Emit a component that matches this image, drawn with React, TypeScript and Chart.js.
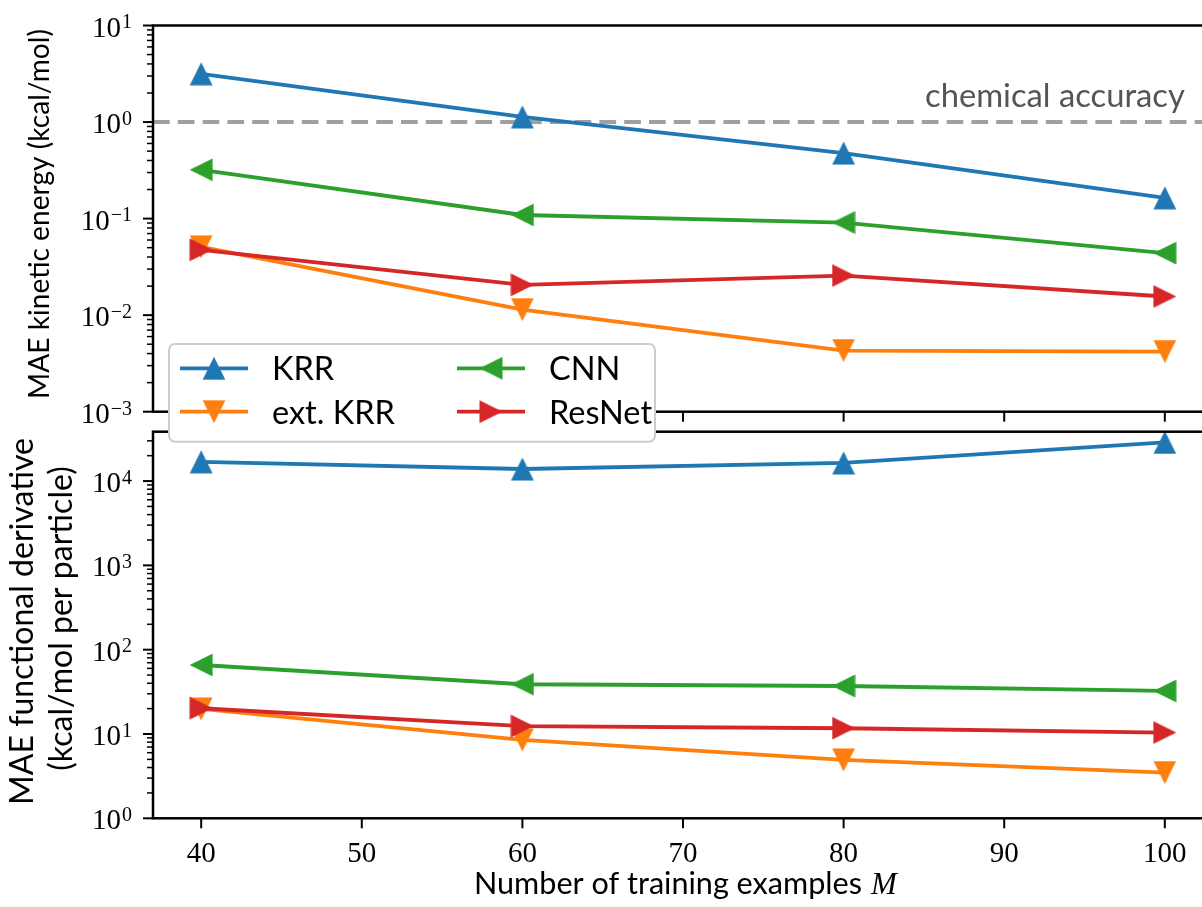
import React, { useEffect, useRef } from "react";
import { Chart, registerables } from "chart.js";

Chart.register(...registerables);

// ---------------- data ----------------
const trainingSizes = [40, 60, 80, 100];
const xTickValues = [40, 50, 60, 70, 80, 90, 100];
const seriesNames = ["KRR", "ext. KRR", "CNN", "ResNet"];
const seriesColors = ["#1f77b4", "#ff7f0e", "#2ca02c", "#d62728"];
const markerRotations = [0, 180, 270, 90];

// top panel: MAE kinetic energy (kcal/mol)
const energyKRR = [3.16, 1.13, 0.477, 0.164];
const energyExtKRR = [0.051, 0.0114, 0.0043, 0.0042];
const energyCNN = [0.32, 0.109, 0.091, 0.0439];
const energyResNet = [0.0475, 0.0206, 0.0257, 0.0156];

// bottom panel: MAE functional derivative (kcal/mol per particle)
const derivKRR = [16900, 13900, 16400, 28700];
const derivExtKRR = [19.8, 8.5, 4.92, 3.49];
const derivCNN = [65.8, 38.9, 37.1, 32.4];
const derivResNet = [20.2, 12.4, 11.7, 10.4];

const topTickExponents = [-3, -2, -1, 0, 1];
const bottomTickExponents = [0, 1, 2, 3, 4];
const chemicalAccuracy = 1;

const topYLabel = "MAE kinetic energy (kcal/mol)";
const bottomYLabel1 = "MAE functional derivative";
const bottomYLabel2 = "(kcal/mol per particle)";
const xLabel = "Number of training examples";
const xLabelVar = "M";
const accuracyLabel = "chemical accuracy";

// ---------------- layout ----------------
const CANVAS_W = 1222;
const PLOT_LEFT = 153;
const PLOT_RIGHT = 1213;
const TOP_CANVAS_H = 450;
const TOP_AREA_TOP = 25.5;
const TOP_AREA_BOTTOM = 411.7;
const BOT_CANVAS_H = 907;
const BOT_AREA_TOP = 431.7;
const BOT_AREA_BOTTOM = 818.3;

const SANS = "Lato";
const SERIF = '"Liberation Serif"';

function makeMarker(color: string): HTMLCanvasElement {
  const c = document.createElement("canvas");
  c.width = 24;
  c.height = 24;
  const g = c.getContext("2d")!;
  g.fillStyle = color;
  g.beginPath();
  g.moveTo(12, 0.6);
  g.lineTo(23.4, 23.4);
  g.lineTo(0.6, 23.4);
  g.closePath();
  g.fill();
  return c;
}

function fitSize(ctx: CanvasRenderingContext2D, text: string, family: string, width: number, style = "") {
  ctx.font = `${style} 100px ${family}`;
  const w = ctx.measureText(text).width;
  return (100 * width) / w;
}

function drawPow(ctx: CanvasRenderingContext2D, exp: number, rightX: number, y: number) {
  const base = "10";
  const sup = exp < 0 ? "\u2212" + String(-exp) : String(exp);
  ctx.fillStyle = "#000";
  ctx.textAlign = "left";
  ctx.textBaseline = "alphabetic";
  ctx.font = `29px ${SERIF}`;
  const bw = ctx.measureText(base).width;
  ctx.font = `20px ${SERIF}`;
  const sw = ctx.measureText(sup).width;
  const x0 = rightX - sw - bw - 1;
  ctx.font = `29px ${SERIF}`;
  ctx.fillText(base, x0, y + 11);
  ctx.font = `20px ${SERIF}`;
  ctx.fillText(sup, x0 + bw + 1, y + 2.8);
}

function drawFrame(chart: any, exps: number[], yMin: number, yMax: number) {
  const ctx: CanvasRenderingContext2D = chart.ctx;
  const ca = chart.chartArea;
  const ys = chart.scales.y;
  const xs = chart.scales.x;
  ctx.save();
  ctx.strokeStyle = "#000";
  const lo = Math.floor(Math.log10(yMin));
  const hi = Math.ceil(Math.log10(yMax));
  for (let e = lo; e <= hi; e++) {
    for (let k = 2; k <= 9; k++) {
      const v = k * Math.pow(10, e);
      if (v < yMin || v > yMax) continue;
      const py = ys.getPixelForValue(v);
      ctx.lineWidth = 1.5;
      ctx.beginPath();
      ctx.moveTo(ca.left - 6, py);
      ctx.lineTo(ca.left, py);
      ctx.stroke();
    }
  }
  for (const e of exps) {
    const py = ys.getPixelForValue(Math.pow(10, e));
    ctx.lineWidth = 2;
    ctx.beginPath();
    ctx.moveTo(ca.left - 10, py);
    ctx.lineTo(ca.left, py);
    ctx.stroke();
    drawPow(ctx, e, ca.left - 21, py);
  }
  for (const t of xTickValues) {
    const px = xs.getPixelForValue(t);
    ctx.lineWidth = 2;
    ctx.beginPath();
    ctx.moveTo(px, ca.bottom);
    ctx.lineTo(px, ca.bottom + 10);
    ctx.stroke();
  }
  ctx.lineWidth = 2.5;
  ctx.strokeRect(ca.left, ca.top, ca.right - ca.left, ca.bottom - ca.top);
  ctx.restore();
}

function makeDatasets(values: number[][], markers: HTMLCanvasElement[]) {
  return values.map((vals, i) => ({
    label: seriesNames[i],
    data: trainingSizes.map((x, j) => ({ x, y: vals[j] })),
    borderColor: seriesColors[i],
    backgroundColor: seriesColors[i],
    borderWidth: 3.8,
    pointStyle: markers[i],
    pointRotation: markerRotations[i],
    pointRadius: 11,
    pointHoverRadius: 11,
    tension: 0,
    order: 4 - i,
  }));
}

function baseOptions(yMin: number, yMax: number, padding: any) {
  return {
    responsive: false,
    animation: false as const,
    devicePixelRatio: 1,
    events: [] as any[],
    layout: { padding, autoPadding: false },
    plugins: { legend: { display: false }, tooltip: { enabled: false } },
    scales: {
      x: { type: "linear" as const, min: 37, max: 103, display: false },
      y: { type: "logarithmic" as const, min: yMin, max: yMax, display: false },
    },
  };
}

export default function App() {
  const topRef = useRef<HTMLCanvasElement>(null);
  const botRef = useRef<HTMLCanvasElement>(null);

  useEffect(() => {
    const markers = seriesColors.map(makeMarker);
    const topMin = 1e-3, topMax = 1e1;
    const botMin = 1, botMax = 38500;

    const topPlugin = {
      id: "topDeco",
      beforeDatasetsDraw(chart: any) {
        const ctx: CanvasRenderingContext2D = chart.ctx;
        const ca = chart.chartArea;
        const py = chart.scales.y.getPixelForValue(chemicalAccuracy);
        ctx.save();
        ctx.beginPath();
        ctx.rect(ca.left, ca.top, ca.right - ca.left, ca.bottom - ca.top);
        ctx.clip();
        ctx.strokeStyle = "rgb(160,160,160)";
        ctx.lineWidth = 4;
        ctx.setLineDash([16.7, 8.1]);
        ctx.beginPath();
        ctx.moveTo(ca.left, py);
        ctx.lineTo(ca.right, py);
        ctx.stroke();
        ctx.restore();
      },
      afterDatasetsDraw(chart: any) {
        const ctx: CanvasRenderingContext2D = chart.ctx;
        drawFrame(chart, topTickExponents, topMin, topMax);
        ctx.save();
        let s = fitSize(ctx, accuracyLabel, SANS, 260);
        ctx.font = `${s}px ${SANS}`;
        ctx.fillStyle = "#555555";
        ctx.textAlign = "left";
        ctx.textBaseline = "alphabetic";
        ctx.fillText(accuracyLabel, 925, 106.7);
        s = fitSize(ctx, topYLabel, SANS, 370);
        ctx.font = `${s}px ${SANS}`;
        ctx.fillStyle = "#000";
        ctx.translate(49, 214);
        ctx.rotate(-Math.PI / 2);
        ctx.textAlign = "center";
        ctx.fillText(topYLabel, 0, 0);
        ctx.restore();

        // legend
        ctx.save();
        const lx = 169, ly = 344, lw = 486, lh = 97.7, r = 6;
        ctx.beginPath();
        ctx.moveTo(lx + r, ly);
        ctx.arcTo(lx + lw, ly, lx + lw, ly + lh, r);
        ctx.arcTo(lx + lw, ly + lh, lx, ly + lh, r);
        ctx.arcTo(lx, ly + lh, lx, ly, r);
        ctx.arcTo(lx, ly, lx + lw, ly, r);
        ctx.closePath();
        ctx.fillStyle = "#ffffff";
        ctx.fill();
        ctx.strokeStyle = "#cccccc";
        ctx.lineWidth = 2;
        ctx.stroke();
        const ls = fitSize(ctx, "ext. KRR", SANS, 123);
        const cols = [180, 457];
        const rows = [368.3, 411.7];
        const textX = [272, 549];
        for (let i = 0; i < 4; i++) {
          const col = Math.floor(i / 2);
          const row = i % 2;
          const x0 = cols[col];
          const y0 = rows[row];
          ctx.strokeStyle = seriesColors[i];
          ctx.lineWidth = 3.8;
          ctx.beginPath();
          ctx.moveTo(x0, y0);
          ctx.lineTo(x0 + 68, y0);
          ctx.stroke();
          ctx.save();
          ctx.translate(x0 + 34, y0);
          ctx.rotate((markerRotations[i] * Math.PI) / 180);
          ctx.drawImage(markers[i], -12, -12);
          ctx.restore();
          ctx.font = `${ls}px ${SANS}`;
          ctx.fillStyle = "#000";
          ctx.textAlign = "left";
          ctx.textBaseline = "alphabetic";
          ctx.fillText(seriesNames[i], textX[col], y0 + 12);
        }
        ctx.restore();
      },
    };

    const botPlugin = {
      id: "botDeco",
      beforeDraw(chart: any) {
        const ctx: CanvasRenderingContext2D = chart.ctx;
        ctx.save();
        ctx.fillStyle = "#fff";
        ctx.fillRect(0, 0, chart.width, chart.height);
        ctx.restore();
      },
      afterDatasetsDraw(chart: any) {
        const ctx: CanvasRenderingContext2D = chart.ctx;
        drawFrame(chart, bottomTickExponents, botMin, botMax);
        const xs = chart.scales.x;
        ctx.save();
        ctx.fillStyle = "#000";
        ctx.textBaseline = "alphabetic";
        ctx.textAlign = "center";
        ctx.font = `29px ${SERIF}`;
        for (const t of xTickValues) {
          ctx.fillText(String(t), xs.getPixelForValue(t), 861.5);
        }
        const s = fitSize(ctx, xLabel, SANS, 388);
        ctx.font = `${s}px ${SANS}`;
        ctx.textAlign = "left";
        ctx.fillText(xLabel, 474, 894);
        ctx.font = `italic 31px ${SERIF}`;
        ctx.fillText(xLabelVar, 871, 894);
        const s1 = fitSize(ctx, bottomYLabel1, SANS, 357);
        const s2 = fitSize(ctx, bottomYLabel2, SANS, 313);
        const sz = (s1 + s2) / 2;
        ctx.font = `${sz}px ${SANS}`;
        ctx.textAlign = "center";
        ctx.save();
        ctx.translate(33, 621.5);
        ctx.rotate(-Math.PI / 2);
        ctx.fillText(bottomYLabel1, 0, 0);
        ctx.restore();
        ctx.save();
        ctx.translate(71.5, 618.5);
        ctx.rotate(-Math.PI / 2);
        ctx.fillText(bottomYLabel2, 0, 0);
        ctx.restore();
        ctx.restore();
      },
    };

    const botChart = new Chart(botRef.current!, {
      type: "line",
      data: { datasets: makeDatasets([derivKRR, derivExtKRR, derivCNN, derivResNet], markers) as any },
      options: baseOptions(botMin, botMax, {
        left: PLOT_LEFT,
        right: CANVAS_W - PLOT_RIGHT,
        top: BOT_AREA_TOP,
        bottom: BOT_CANVAS_H - BOT_AREA_BOTTOM,
      }) as any,
      plugins: [botPlugin as any],
    });

    const topChart = new Chart(topRef.current!, {
      type: "line",
      data: { datasets: makeDatasets([energyKRR, energyExtKRR, energyCNN, energyResNet], markers) as any },
      options: baseOptions(topMin, topMax, {
        left: PLOT_LEFT,
        right: CANVAS_W - PLOT_RIGHT,
        top: TOP_AREA_TOP,
        bottom: TOP_CANVAS_H - TOP_AREA_BOTTOM,
      }) as any,
      plugins: [topPlugin as any],
    });

    return () => {
      topChart.destroy();
      botChart.destroy();
    };
  }, []);

  return (
    <div
      style={{
        position: "fixed",
        left: 0,
        top: 0,
        width: 1202,
        height: 907,
        overflow: "hidden",
        background: "#fff",
      }}
    >
      <canvas
        ref={botRef}
        width={CANVAS_W}
        height={BOT_CANVAS_H}
        style={{ position: "absolute", left: 0, top: 0, display: "block" }}
      />
      <canvas
        ref={topRef}
        width={CANVAS_W}
        height={TOP_CANVAS_H}
        style={{ position: "absolute", left: 0, top: 0, display: "block" }}
      />
    </div>
  );
}
